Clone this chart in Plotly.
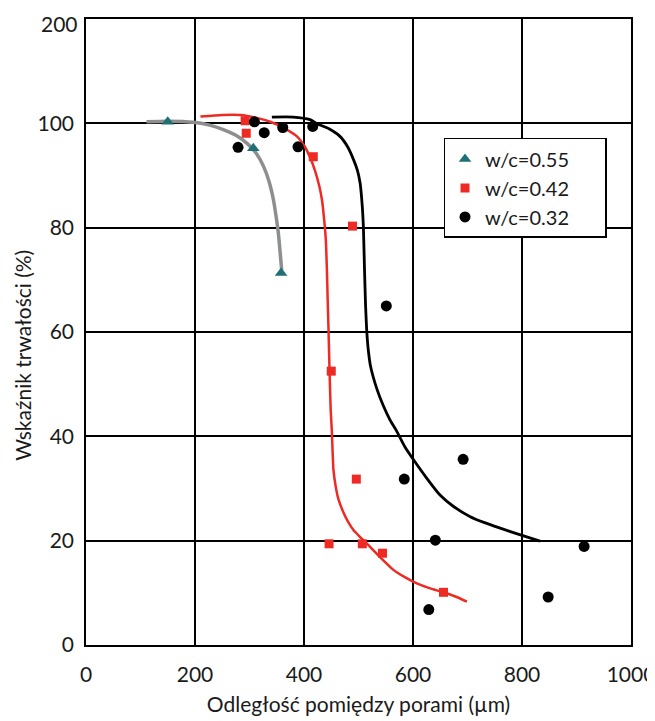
import plotly.graph_objects as go

# --- data ---
tri_x = [150, 307, 358]
tri_y = [100.3, 95.2, 71.3]

sq_x = [292, 294, 417, 489, 450, 496, 446, 507, 544, 656]
sq_y = [100.5, 98.1, 93.6, 80.3, 52.5, 31.8, 19.4, 19.4, 17.6, 10.1]

circ_x = [279, 309, 327, 361, 389, 416, 551, 584, 692, 641, 629, 848, 914]
circ_y = [95.4, 100.3, 98.2, 99.2, 95.5, 99.4, 65.0, 31.8, 35.6, 20.1, 6.8, 9.2, 18.9]

# fitted curves
gray_x = [111, 150, 197, 225, 252, 275, 295, 312, 326, 336, 344, 349, 353, 356, 359]
gray_y = [100.3, 100.4, 100.2, 99.7, 98.8, 97.7, 96.2, 94.3, 91.7, 88.8, 85.3, 82.0, 78.9, 75.5, 71.9]

red_x = [210, 250, 283, 315, 338, 365, 387, 400, 411, 420, 428, 433, 437, 440, 442, 443.5, 445, 447, 449,
         451, 452.5, 454, 458, 463, 472, 481, 491, 503, 515, 540, 564, 585, 607, 630, 656, 680, 699]
red_y = [101.3, 101.6, 101.6, 101.0, 100.3, 99.0, 97.5, 95.8, 93.5, 91.0, 88.0, 85.3, 81.5, 77.7, 72.0, 66.0, 60.4, 52.0, 45.0,
         41.2, 37.0, 33.6, 30.5, 28.0, 25.5, 23.6, 22.0, 20.7, 19.5, 16.8, 14.4, 13.0, 11.8, 10.9, 10.1, 9.2, 8.3]

black_x = [341, 380, 411, 424, 445, 466, 480, 491, 498, 503, 507, 509, 511, 513, 515, 518, 522, 534, 545,
           558, 570, 585, 601, 625, 650, 675, 705, 730, 760, 800, 833]
black_y = [101.2, 101.2, 100.7, 99.9, 99.0, 97.5, 95.5, 93.0, 91.0, 88.5, 84.0, 80.0, 72.0, 65.0, 60.4, 56.5, 53.5, 49.0, 46.0,
           43.1, 41.0, 38.0, 35.5, 32.0, 28.7, 26.5, 24.6, 23.5, 22.4, 21.0, 19.9]

x_ticks = [0, 200, 400, 600, 800, 1000]
y_tickvals = [0, 20, 40, 60, 80, 100, 120]
y_ticktext = ["0", "20", "40", "60", "80", "100", ""]
y_top_label = "200"   # drawn separately, slightly lowered as in the reference

labels = ["w/c=0.55", "w/c=0.42", "w/c=0.32"]
x_title = "Odległość pomiędzy porami (µm)"
y_title = "Wskaźnik trwałości (%)"

FONT = "Lato, 'Open Sans', sans-serif"
PAD = "\u00a0" * 6

fig = go.Figure()

fig.add_trace(go.Scatter(x=gray_x, y=gray_y, mode="lines", line=dict(color="#8c8e90", width=3.5, shape="spline", smoothing=0.6),
                         showlegend=False, hoverinfo="skip"))
fig.add_trace(go.Scatter(x=red_x, y=red_y, mode="lines", line=dict(color="#ee2a24", width=2.5, shape="spline", smoothing=0.5),
                         showlegend=False, hoverinfo="skip"))
fig.add_trace(go.Scatter(x=black_x, y=black_y, mode="lines", line=dict(color="#000000", width=2.8, shape="spline", smoothing=0.5),
                         showlegend=False, hoverinfo="skip"))

fig.add_trace(go.Scatter(x=tri_x, y=tri_y, mode="markers", name=labels[0] + PAD,
                         marker=dict(symbol="triangle-up", size=11, color="#1e6f76")))
fig.add_trace(go.Scatter(x=sq_x, y=sq_y, mode="markers", name=labels[1] + PAD,
                         marker=dict(symbol="square", size=9, color="#ee2a24")))
fig.add_trace(go.Scatter(x=circ_x, y=circ_y, mode="markers", name=labels[2] + PAD,
                         marker=dict(symbol="circle", size=11, color="#000000")))

# page body has an 8px margin; margins are shifted so the plot area lands where the reference has it
fig.update_layout(
    width=655, height=721,
    margin=dict(l=78, r=32, t=11, b=84, autoexpand=False),
    paper_bgcolor="white", plot_bgcolor="white",
    font=dict(family=FONT, size=21, color="#1a1a1a"),
    showlegend=True,
    legend=dict(x=0.656, y=0.81, xanchor="left", yanchor="top",
                bgcolor="white", bordercolor="#000000", borderwidth=1.5,
                font=dict(size=20), tracegroupgap=0, itemwidth=30),
    annotations=[
        dict(text=y_title, xref="paper", yref="paper", x=-0.118, y=0.463,
             xanchor="center", yanchor="middle", textangle=-90, showarrow=False,
             font=dict(size=21)),
        dict(text=y_top_label, xref="paper", yref="y", x=0, y=y_tickvals[-1],
             xanchor="right", yanchor="middle", xshift=-6, yshift=-4, showarrow=False,
             font=dict(size=21)),
    ],
)

fig.update_xaxes(range=[0, 1000], tickvals=x_ticks, showgrid=True, gridcolor="#000000", gridwidth=1.5,
                 showline=True, linecolor="#000000", linewidth=1.5, mirror=True, zeroline=False,
                 ticks="", ticklabelstandoff=10, automargin=False, ticklabeloverflow="allow",
                 title=dict(text=x_title, font=dict(size=21), standoff=12))
fig.update_yaxes(range=[0, 120], tickvals=y_tickvals, ticktext=y_ticktext, showgrid=True, gridcolor="#000000", gridwidth=1.5,
                 showline=True, linecolor="#000000", linewidth=1.5, mirror=True, zeroline=False,
                 ticks="", ticklabelstandoff=6, automargin=False, ticklabeloverflow="allow")

fig.write_html("out.html")
